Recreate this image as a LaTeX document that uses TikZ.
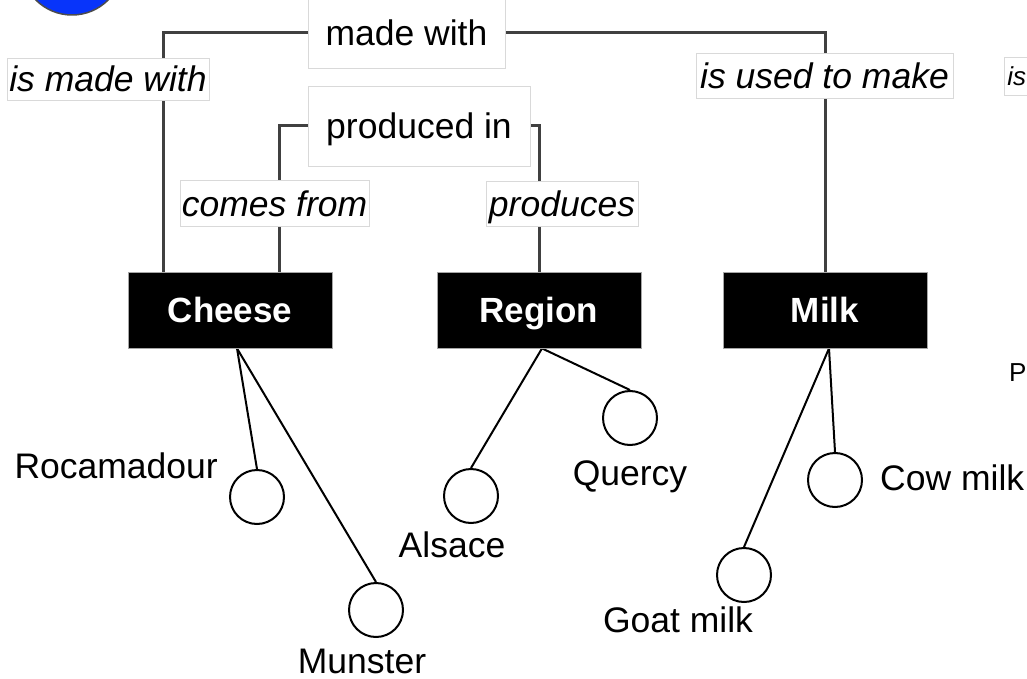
\documentclass[tikz,border=0pt]{standalone}
\usepackage{fontspec}
\setmainfont{Liberation Sans}
\usetikzlibrary{calc}
\pgfdeclarelayer{back}
\pgfdeclarelayer{bg}
\pgfsetlayers{back,bg,main}
\definecolor{conceptblue}{RGB}{8,52,250}
\tikzset{
  lbl/.style={draw=gray!30, line width=0.8pt, fill=white, inner sep=0pt,
              text height=26pt, text depth=0pt,
              font=\fontsize{35.5}{40}\selectfont},
  ilbl/.style={lbl, font=\fontsize{35.5}{40}\selectfont\itshape},
  concept/.style={fill=black, draw=gray!70, line width=0.8pt, text=white,
                  text height=25pt, text depth=0pt,
                  font=\fontsize{35}{40}\selectfont\bfseries,
                  minimum width=204pt, minimum height=76pt, inner sep=0pt},
  inst/.style={circle, draw=black, line width=2pt, fill=white,
               minimum size=54pt, inner sep=0pt},
  itxt/.style={inner sep=0pt, font=\fontsize{35.5}{40}\selectfont},
  link/.style={draw=black!75, line width=3pt},
  ilink/.style={draw=black, line width=2pt},
}
\begin{document}
\begin{tikzpicture}[x=1pt,y=-1pt]
\useasboundingbox (0,0) rectangle (1027,679);
\clip (0,0) rectangle (1027,679);
\begin{pgfonlayer}{back}
  \fill[white] (0,0) rectangle (1027,679);
\end{pgfonlayer}

% blue circle (cut by the top edge)
\node[circle, fill=conceptblue, draw=black!70, line width=1.5pt,
      minimum size=102pt, inner sep=0pt] (blue) at (72,-36) {};

% concept boxes
\node[concept] (cheese) at (230,310) {Cheese};
\node[concept] (region) at (539,310) {Region};
\node[concept] (milk)   at (825,310) {Milk};

% link labels
\node[lbl, minimum width=197pt, minimum height=70pt] (madewith) at (406.5,33) {made with};
\node[lbl, minimum width=222pt, minimum height=80pt] (produced) at (419,126) {produced in};
\node[ilbl, minimum width=202pt, minimum height=42pt] (ismade) at (108,79) {is made with};
\node[ilbl, minimum width=257pt, minimum height=45pt] (isused) at (824.5,75.5) {is used to make};
\node[ilbl, minimum width=189pt, minimum height=46pt] (comes) at (274.5,203) {comes from};
\node[ilbl, minimum width=152pt, minimum height=45pt] (produces) at (562,203.5) {produces};

% partial items at the right edge
\node[draw=gray!30, line width=0.8pt, fill=white, inner xsep=3pt, inner ysep=0pt,
      minimum height=38pt, text width=90pt, align=left, anchor=west,
      font=\fontsize{26}{30}\selectfont\itshape] (isx) at (1004,76) {is};
\node[itxt, font=\fontsize{26}{30}\selectfont, anchor=base west] (pnode) at (1009,381) {P};

% instance circles
\node[inst] (roc) at (257,497) {};
\node[inst] (mun) at (376,610) {};
\node[inst] (als) at (471,496) {};
\node[inst] (que) at (630,418) {};
\node[inst] (cow) at (835,480) {};
\node[inst] (goa) at (744,575) {};

% instance names
\node[itxt, anchor=base east] (troc) at (218,478) {Rocamadour};
\node[itxt, anchor=base] (tmun) at (362,673) {Munster};
\node[itxt, anchor=base] (tals) at (452,557) {Alsace};
\node[itxt, anchor=base] (tque) at (630,485) {Quercy};
\node[itxt, anchor=base west] (tcow) at (880,490) {Cow milk};
\node[itxt, anchor=base] (tgoa) at (678,632) {Goat milk};

% helper coordinates for where connectors meet the boxes
\coordinate (k1) at (163,0);
\coordinate (k2) at (279,0);
\coordinate (cb) at (237,0);
\coordinate (rb) at (542,0);
\coordinate (mb) at (829,0);

\begin{pgfonlayer}{bg}
  \draw[link] (cheese.north -| k1) |- (madewith.west);
  \draw[link] (madewith.east) -| (milk.north);
  \draw[link] (cheese.north -| k2) |- (produced.west);
  \draw[link] (produced.east) -| (region.north);
  \draw[ilink] (cheese.south -| cb) -- (roc.north);
  \draw[ilink] (cheese.south -| cb) -- (mun.north);
  \draw[ilink] (region.south -| rb) -- (als.north);
  \draw[ilink] (region.south -| rb) -- (que.north);
  \draw[ilink] (milk.south -| mb) -- (cow.north);
  \draw[ilink] (milk.south -| mb) -- (goa.north);
\end{pgfonlayer}
\end{tikzpicture}
\end{document}
